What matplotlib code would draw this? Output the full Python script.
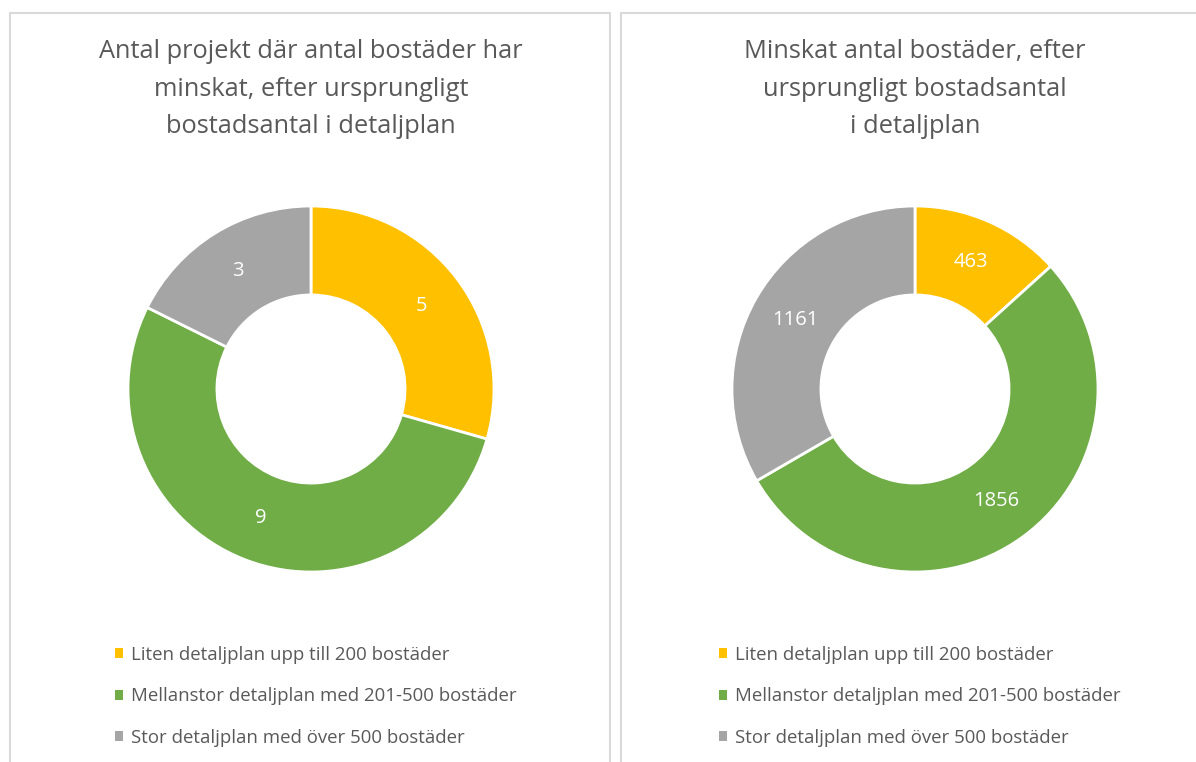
import matplotlib.pyplot as plt
from matplotlib.patches import Rectangle, Patch

plt.rcParams['font.family'] = ['Open Sans', 'DejaVu Sans']

categories = [
    "Liten detaljplan upp till 200 bostäder",
    "Mellanstor detaljplan med 201-500 bostäder",
    "Stor detaljplan med över 500 bostäder",
]
projects = [5, 9, 3]
homes = [463, 1856, 1161]
titles = [
    "Antal projekt där antal bostäder har\nminskat, efter ursprungligt\nbostadsantal i detaljplan",
    "Minskat antal bostäder, efter\nursprungligt bostadsantal\ni detaljplan",
]
colors = ["#FFC000", "#70AD47", "#A5A5A5"]
TEXT = "#595959"

W, H = 1196, 762
fig = plt.figure(figsize=(W / 100, H / 100), dpi=100)

# panel frames (pixel coords, origin top-left)
frames = [(10, 13, 600), (621, 13, 600)]
for x0, y0, w in frames:
    fig.patches.append(Rectangle((x0 / W, -0.1), w / W, 1.1 - y0 / H,
                                 transform=fig.transFigure, fill=False,
                                 edgecolor="#D9D9D9", linewidth=1.5))

centers = [311, 915]
R = 183
for cx, vals, title in zip(centers, [projects, homes], titles):
    ax = fig.add_axes([(cx - R) / W, (H - 389 - R) / H, 2 * R / W, 2 * R / H])
    wedges, _, autotexts = ax.pie(
        vals, colors=colors, startangle=90, counterclock=False,
        wedgeprops=dict(width=0.486, edgecolor="white", linewidth=2),
        autopct=lambda p, v=vals: f"{round(p * sum(v) / 100)}",
        pctdistance=0.757, textprops=dict(color="white", fontsize=14.5))
    ax.set_xlim(-1, 1)
    ax.set_ylim(-1, 1)
    ax.axis("off")

    fig.text(cx / W, (H - 89) / H, title, ha="center", va="center",
             fontsize=18.3, color=TEXT, linespacing=1.68)

    handles = [Patch(facecolor=c, edgecolor="none") for c in colors]
    fig.legend(handles, categories, loc="upper left",
               bbox_to_anchor=((cx - 196) / W, (H - 646) / H),
               frameon=False, fontsize=13.4, labelcolor=TEXT,
               handlelength=0.45, handleheight=0.45, handletextpad=0.4,
               labelspacing=1.26, borderpad=0, borderaxespad=0)

fig.savefig("out.png", dpi=100, facecolor="white")
